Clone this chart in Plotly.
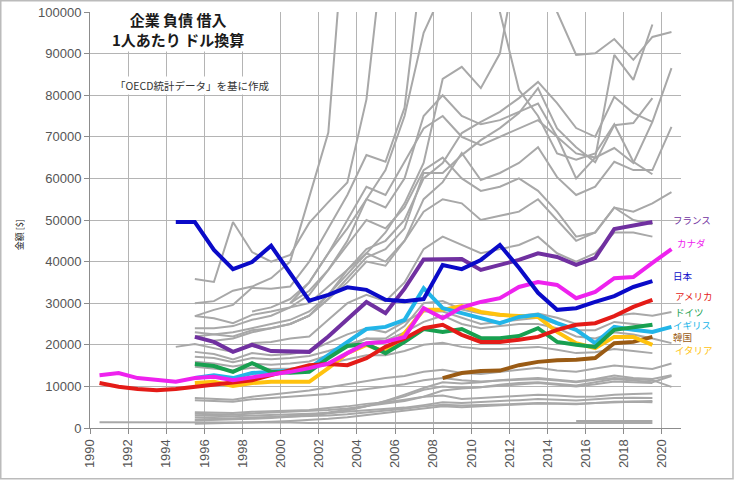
import plotly.graph_objects as go

# ---------------- data ----------------
years = list(range(1990, 2021))
tick_years = list(range(1990, 2021, 2))

def series(start, vals):
    pad = [None] * (start - 1990)
    out = pad + list(vals)
    out = out + [None] * (31 - len(out))
    return out[:31]

japan = series(1994, [49500, 49500, 42800, 38200, 39900, 43800, 37200, 30600, 32000, 33800, 33200,
                      30800, 30500, 31000, 39200, 38200, 40400, 44000, 38500, 32500, 28400, 28800,
                      30300, 31700, 33900, 35300])
france = series(1995, [21900, 20700, 18300, 20000, 18500, 18400, 18300, 22000, 26000, 30300, 27600,
                       33500, 40500, 40600, 40600, 38000, 39200, 40400, 42000, 41100, 39200, 40900,
                       47800, 48600, 49500])
canada = series(1990, [12700, 13200, 12000, 11500, 11100, 12000, 12300, 11500, 12200, 12700, 13500,
                       14400, 15500, 18000, 20400, 20700, 21900, 28800, 26400, 29000, 30300, 31200,
                       33900, 35100, 34400, 31200, 32700, 36000, 36300, 39700, 43000])
usa = series(1990, [10800, 9900, 9400, 9100, 9400, 9900, 10300, 10800, 11500, 12700, 14000, 15100,
                    15400, 15100, 16800, 19500, 21500, 24000, 24800, 22400, 20700, 20700, 21200,
                    21900, 23600, 24800, 25200, 26900, 29100, 30800])
germany = series(1995, [15400, 14900, 13500, 15600, 13500, 13300, 13500, 16800, 19700, 20200, 18000,
                        20700, 23800, 23100, 23800, 21600, 21600, 22100, 24000, 20700, 20000, 19500,
                        23600, 24300, 24800])
uk = series(1995, [12000, 12700, 12000, 13200, 13500, 13800, 14400, 17500, 20700, 23800, 24300, 26000,
                   33600, 28800, 27600, 26400, 25200, 26700, 27200, 25200, 23600, 20400, 24300, 23600,
                   23100, 24300])
korea = series(2008, [12000, 13200, 13700, 13800, 15100, 15900, 16300, 16400, 16800, 20400, 20700, 21900])
italy = series(1995, [10800, 11100, 10100, 10800, 11100, 11100, 11100, 14400, 18000, 20000, 18300,
                      22800, 28400, 28400, 29300, 27900, 27200, 26900, 26700, 23100, 20400, 19200,
                      21900, 21900, 20000])

# other OECD countries (grey)
others = [
    series(1990, [1400] * 6 + [1300] * 5 + [1200] * 19),
    series(1995, [3800, 3700, 3600, 3900, 4000, 4200, 4300, 4800, 5200, 5800, 6200, 6800, 7500, 7800,
                  7000, 7200, 7500, 7700, 8000, 7800, 7500, 7600, 8000, 8200, 8300]),
    series(1995, [3400, 3300, 3200, 3500, 3700, 3900, 4000, 4300, 4700, 5300, 5800, 6500, 7500, 9000,
                  9500, 9800, 10200, 10500, 10800, 10400, 10000, 10500, 11200, 11000, 10800]),
    series(1995, [3000, 2900, 2800, 3000, 3100, 3300, 3400, 3600, 3900, 4200, 4500, 4900, 5500, 6200,
                  6000, 6300, 6500, 6700, 7000, 6800, 6600, 6900, 7200, 7300, 7200]),
    series(1995, [2500, 2400, 2300, 2500, 2600, 2700, 2800, 3000, 3300, 3700, 4100, 4600, 5200, 5600,
                  5400, 5500, 5600, 5800, 6000, 5900, 5800, 6000, 6200, 6300, 6200]),
    series(1995, [2000, 2100, 2200, 2400, 2600, 2900, 3200, 3700, 4400, 5300, 6400, 7600, 9200, 10000,
                  9600, 9800, 10400, 10800, 11000, 10600, 10200, 11000, 11800, 11400, 11000, 12500]),
    series(1995, [1800, 1900, 2000, 2200, 2400, 2700, 3000, 3500, 4200, 5200, 6500, 8000, 9600, 11000,
                  10700, 11000, 11500, 11800, 12000, 11600, 11200, 11800, 12600, 12000, 11800, 12700]),
    series(1995, [1000, 1100, 1200, 1300, 1500, 1700, 1900, 2200, 2600, 3100, 3600, 4100, 4700, 5200,
                  5000, 5200, 5500, 5700, 5900, 5800, 5700, 6000, 6300, 6400, 6500]),
    series(1995, [7200, 7000, 6800, 7500, 8000, 8500, 9000, 9800, 10500, 11200, 12000, 12500, 13500,
                  14000, 13200, 13000, 13500, 14000, 14500, 13800, 13500, 14300, 15000, 14600, 14200, 15500]),
    series(1995, [6700, 6500, 6300, 6900, 7200, 7500, 7800, 8200, 8800, 9400, 9900, 10500, 11500, 12000,
                  11500, 11200, 11400, 11600, 11800, 11400, 11000, 11600, 12000, 11800, 11500, 9900]),
    series(2015, [1700, 1700, 1700, 1700, 1700]),
    series(1995, [18300, 17800, 16500, 18000, 17500, 17800, 18500, 20500, 22500, 24000, 23000, 25500,
                  28000, 28000, 26500, 25000, 25500, 26000, 26500, 25000, 23500, 23500, 25500, 25000, 24500]),
    series(1995, [17100, 16800, 15800, 16800, 16500, 16800, 17300, 18500, 20000, 21500, 21000, 23000,
                  25500, 27000, 25000, 24000, 24500, 25000, 25000, 24000, 22000, 21500, 23000, 22500,
                  21500, 20400]),
    series(1995, [15900, 15500, 14800, 15500, 15200, 15500, 16000, 17500, 19500, 21500, 21500, 24500,
                  30000, 30500, 28500, 27500, 27000, 27000, 27500, 26500, 25000, 25000, 27000, 27500,
                  27000, 27900]),
    series(1995, [14700, 14300, 13800, 14500, 14200, 14300, 14700, 15500, 16500, 17500, 17500, 18500,
                  20000, 20500, 19500, 19000, 19000, 19200, 19500, 18800, 18000, 18200, 19000, 18500, 18000]),
    series(1994, [19500, 20200, 19200, 18300, 20400, 20700, 21500, 22000, 26000, 30000, 32000, 30500,
                  35000, 43000, 46000, 44000, 42000, 43000, 44000, 46000, 42000, 40000, 42000, 47000,
                  47000, 46000]),
    series(1995, [26900, 26400, 25200, 27200, 28000, 29000, 30000, 34000, 38000, 42000, 40000, 45000,
                  52000, 55000, 54000, 50000, 51000, 52000, 55000, 50000, 45000, 47000, 53000, 52000,
                  54000, 56700]),
    series(1995, [35800, 35100, 49500, 42300, 40000, 41600, 49300, 54300, 59000, 79000, 120000, 130000,
                  130000, 130000, 130000, 130000, 130000, 130000, 130000, 130000, 130000, 130000, 130000,
                  130000, 130000]),
    series(1995, [26900, 28400, 29600, 33700, 33500, 34000, 40000, 48000, 56000, 65600, 64000, 77000,
                  115000, 125000, 125000, 125000, 125000, 125000, 125000, 125000, 125000, 125000,
                  125000, 125000, 125000]),
    series(1995, [30000, 30500, 33000, 34000, 36000, 40000, 55500, 71000, 130000, 140000, 140000, 140000,
                  140000, 140000, 140000, 140000, 140000, 140000, 140000, 140000, 140000, 140000,
                  140000, 140000, 140000]),
    series(1995, [22000, 22500, 23000, 24000, 25000, 26000, 28000, 32000, 37000, 42000, 47000, 54000,
                  63700, 83900, 86800, 81700, 90000, 115000, 110000, 100000, 89700, 90100, 93500,
                  88500, 94000, 95200]),
    series(1995, [24000, 24000, 24500, 26000, 27000, 29000, 32000, 38000, 45000, 55000, 62000, 75000,
                  95000, 105000, 108000, 112000, 100000, 81300, 75000, 66000, 64500, 66000, 73000,
                  64000, 61000]),
    series(2000, [25000, 27000, 32000, 38000, 43000, 45000, 50000, 60000, 63700, 70900, 73600, 76000,
                  79300, 83200, 78100, 72100, 70000, 79600, 75700, 73600]),
    series(1996, [21000, 21500, 23000, 24000, 25000, 27000, 31000, 36000, 41000, 43000, 48000, 61300,
                  61300, 65600, 69200, 72100, 75700, 81700, 72000, 67500, 63900, 72800, 73300, 79300]),
    series(1995, [23000, 22500, 22000, 23500, 24000, 25000, 27000, 31000, 35000, 40000, 39000, 45000,
                  55000, 59100, 66100, 59600, 61300, 63700, 67500, 60300, 56000, 58000, 64000, 62000,
                  62000, 72400]),
    series(2000, [30000, 35000, 42000, 48000, 55000, 53000, 60000, 75000, 80000, 75000, 73000, 74000,
                  76000, 78000, 70000, 60000, 65000, 89700, 83700, 97000]),
    series(2000, [30000, 33000, 38000, 44000, 50000, 48000, 53000, 62000, 65000, 60000, 57000, 58000,
                  60000, 57000, 52000, 46000, 47000, 53000, 50000, 49000]),
    series(1998, [28000, 29000, 31000, 35000, 42000, 50000, 58000, 56000, 64000, 72000, 75000, 70000,
                  68000, 70000, 72000, 74000, 70000, 66000, 65000, 67300, 63700, 73600, 86500]),
]

highlight_names = ["韓国", "イタリア", "イギリス", "ドイツ", "アメリカ", "カナダ", "フランス", "日本"]
highlight_values = [korea, italy, uk, germany, usa, canada, france, japan]
highlight_colors = ["#9A5B14", "#FFC20E", "#22B5E8", "#18A050", "#E41B17", "#EE22EE", "#7030A0", "#0A0AC8"]

title_lines = ["企業 負債 借入", "1人あたり ドル換算"]
subtitle = "「OECD統計データ」を基に作成"
y_title = "金額 [$]"

# ---------------- figure ----------------
fig = go.Figure()
for vals in others:
    fig.add_trace(go.Scatter(x=years, y=vals, mode="lines", line=dict(color="#A8A8A8", width=2),
                             hoverinfo="skip", showlegend=False, connectgaps=False))
for name, vals, col in zip(highlight_names, highlight_values, highlight_colors):
    fig.add_trace(go.Scatter(x=years, y=vals, mode="lines", name=name,
                             line=dict(color=col, width=4), showlegend=False))

font_main = "Liberation Sans, Arial, Noto Sans CJK JP, sans-serif"
font_jp = "Noto Sans CJK JP, sans-serif"

# end-of-line labels
label_pos = {"フランス": 50000, "カナダ": 44500, "日本": 36500, "アメリカ": 31700,
             "ドイツ": 27800, "イギリス": 24800, "韓国": 21800, "イタリア": 18800}
label_dx = {"フランス": 0.15, "カナダ": 0.35, "日本": 0.15, "アメリカ": 0.25,
            "ドイツ": 0.25, "イギリス": 0.15, "韓国": 0.15, "イタリア": 0.25}
for name, col in zip(highlight_names, highlight_colors):
    fig.add_annotation(x=2019.9 + label_dx[name], y=label_pos[name], text=name, showarrow=False,
                       xanchor="left", yanchor="middle", borderpad=0,
                       font=dict(family=font_jp, size=9.5, color=col))

fig.add_annotation(x=0.149, xref="paper", y=0.957, yref="paper",
                   text="<br>".join("<b>" + t + "</b>" for t in title_lines),
                   showarrow=False, font=dict(family=font_jp, size=15, color="#1a1a1a"),
                   bgcolor="white", align="center", xanchor="center", yanchor="middle")
fig.add_annotation(x=0.172, xref="paper", y=0.823, yref="paper", text=subtitle, showarrow=False,
                   font=dict(family=font_jp, size=10.5, color="#333333"), bgcolor="white",
                   xanchor="center", yanchor="middle")
fig.add_annotation(x=-0.119, xref="paper", y=0.465, yref="paper", text=y_title, showarrow=False,
                   textangle=-90, font=dict(family=font_jp, size=9, color="#222222"),
                   xanchor="center", yanchor="middle")

# outer frame
fig.add_shape(type="rect", xref="paper", yref="paper", x0=-0.151, x1=1.088, y0=-0.122, y1=1.027,
              line=dict(color="#BBBBBB", width=1.5), layer="below")

fig.update_layout(
    width=734, height=480,
    margin=dict(l=90, r=53, t=12, b=52, autoexpand=False),
    paper_bgcolor="white", plot_bgcolor="white",
    font=dict(family=font_main, size=13, color="#555555"),
    showlegend=False,
)
fig.update_xaxes(range=[1989.5, 2020.5], tickmode="array", automargin=False,
                 tickvals=[t - 0.5 for t in tick_years], ticktext=[str(t) for t in tick_years],
                 tickangle=-90, showgrid=True, gridcolor="#B4B4B4", gridwidth=1,
                 showline=True, linecolor="#8C8C8C", linewidth=1,
                 ticks="outside", ticklen=5, tickcolor="#8C8C8C", zeroline=False,
                 tickfont=dict(family=font_main, size=13, color="#555555"))
fig.update_yaxes(range=[0, 100000], dtick=10000, tickformat="d", showgrid=True, automargin=False,
                 gridcolor="#B4B4B4", gridwidth=1, showline=True, linecolor="#8C8C8C", linewidth=1,
                 ticks="outside", ticklen=5, tickcolor="#8C8C8C", zeroline=False,
                 tickfont=dict(family=font_main, size=13, color="#555555"))

fig.write_html("out.html", config={"displayModeBar": False},
               post_script="document.body.style.margin='0';")
